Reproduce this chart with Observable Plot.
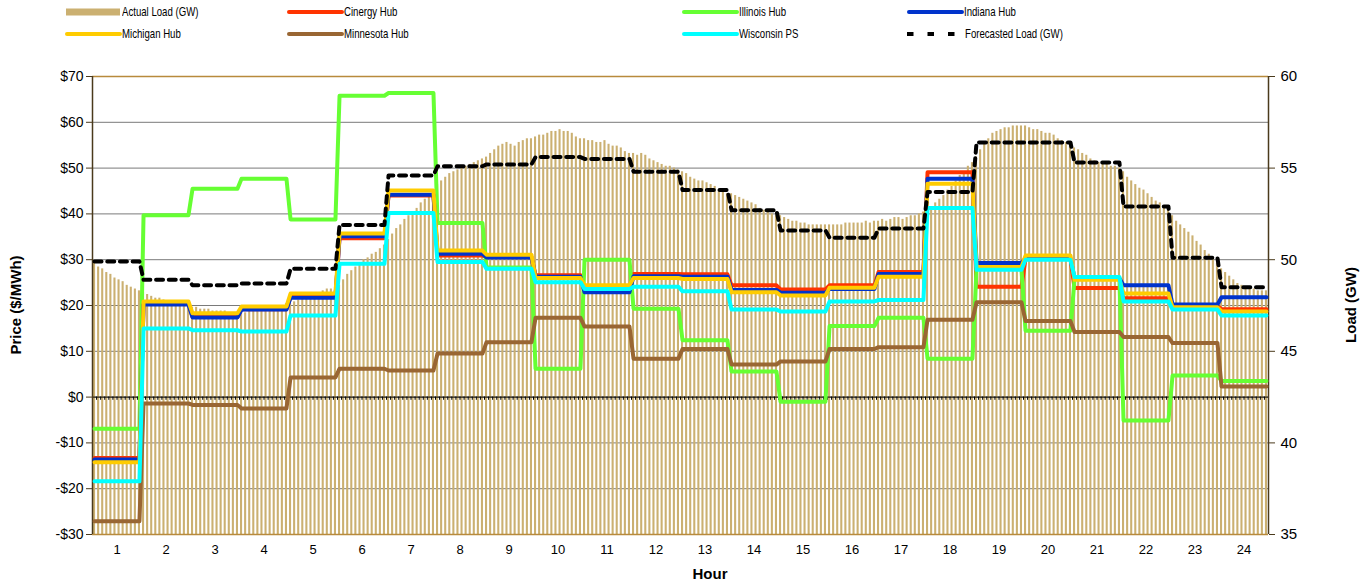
<!DOCTYPE html>
<html><head><meta charset="utf-8">
<script src="https://cdn.jsdelivr.net/npm/d3@7"></script>
<script src="https://cdn.jsdelivr.net/npm/@observablehq/plot@0.6"></script>
<style>
body{margin:0;background:#fff;}
#wrap{position:relative;width:1367px;height:580px;overflow:hidden;font-family:"Liberation Sans",Arial,sans-serif;}
#chart{position:absolute;left:0;top:0}
.lg{position:absolute;font-family:"Liberation Sans",Arial,sans-serif;font-size:13px;line-height:15px;color:#000;white-space:nowrap;transform:scaleX(0.74);transform-origin:0 50%}
.ttl{position:absolute;font-weight:bold;font-size:15px;color:#000;white-space:nowrap}
</style></head><body>
<div id="wrap"><div id="chart"></div><div id="legend"></div>
<div class="ttl" id="ylab" style="left:15px;top:305px;transform:translate(-50%,-50%) rotate(-90deg)">Price ($/MWh)</div>
<div class="ttl" id="y2lab" style="left:1350px;top:305px;transform:translate(-50%,-50%) rotate(-90deg)">Load (GW)</div>
<div class="ttl" id="xlab" style="left:710px;top:573px;transform:translate(-50%,-50%)">Hour</div>
</div>
<script>
// ---- data ----
const hours = d3.range(1, 25);
const priceTicks = [-30, -20, -10, 0, 10, 20, 30, 40, 50, 60, 70];
const loadTicks = [35, 40, 45, 50, 55, 60];

const cinergy   = [-13.3, 20.5, 17.5, 19.2, 21.9, 34.7, 44.0, 30.9, 30.6, 26.6, 23.3, 26.9, 26.8, 24.4, 23.5, 24.4, 27.3, 49.1, 24.1, 30.2, 23.8, 21.6, 19.9, 19.2];
const illinois  = [-6.9, 39.7, 45.5, 47.7, 38.8, 65.8, 66.4, 38.0, 28.3, 6.2, 30.0, 19.3, 12.4, 5.6, -1.0, 15.5, 17.3, 8.4, 28.0, 14.5, 25.9, -5.1, 4.7, 3.5];
const indiana   = [-13.6, 20.2, 17.4, 19.1, 21.7, 35.1, 44.2, 31.3, 30.5, 26.3, 22.9, 26.4, 26.3, 23.4, 22.8, 23.6, 26.9, 47.7, 29.3, 30.3, 25.9, 24.4, 20.2, 21.8];
const michigan  = [-14.2, 20.9, 18.3, 19.8, 22.6, 35.7, 45.1, 32.0, 31.1, 26.0, 24.4, 26.0, 25.8, 22.9, 22.2, 23.9, 26.3, 46.6, 28.4, 30.9, 25.6, 22.6, 19.6, 18.7];
const minnesota = [-27.1, -1.4, -1.7, -2.5, 4.3, 6.2, 5.8, 9.5, 12.0, 17.3, 15.4, 8.4, 10.5, 7.1, 7.8, 10.5, 10.9, 16.9, 20.7, 16.6, 14.2, 13.1, 11.8, 2.3];
const wisconsin = [-18.4, 15.0, 14.6, 14.3, 17.8, 29.1, 40.2, 29.5, 28.0, 25.1, 23.6, 24.1, 23.1, 19.1, 18.7, 20.9, 21.2, 41.3, 27.8, 30.0, 26.2, 20.9, 19.1, 17.8];
const forecastLoad = [49.9, 48.9, 48.6, 48.7, 49.5, 51.9, 54.6, 55.1, 55.2, 55.6, 55.5, 54.8, 53.8, 52.7, 51.6, 51.2, 51.7, 53.7, 56.4, 56.4, 55.3, 52.9, 50.1, 48.5];

// actual load, 5-minute readings (12 per hour), GW
const actualLoad = [
  49.8, 49.6, 49.5, 49.3, 49.2, 49.0, 48.9, 48.8, 48.6, 48.5, 48.4, 48.3,
  48.2, 48.1, 48.0, 47.9, 47.9, 47.8, 47.7, 47.7, 47.6, 47.6, 47.5, 47.5,
  47.4, 47.4, 47.3, 47.3, 47.3, 47.2, 47.2, 47.2, 47.2, 47.1, 47.1, 47.1,
  47.1, 47.1, 47.2, 47.2, 47.2, 47.3, 47.3, 47.4, 47.4, 47.5, 47.5, 47.6,
  47.6, 47.7, 47.8, 47.9, 48.0, 48.0, 48.1, 48.2, 48.3, 48.4, 48.4, 48.5,
  48.6, 48.9, 49.2, 49.4, 49.6, 49.8, 50.0, 50.1, 50.3, 50.4, 50.6, 50.8,
  51.1, 51.4, 51.7, 51.9, 52.2, 52.4, 52.6, 52.8, 53.1, 53.3, 53.6, 53.8,
  54.1, 54.3, 54.5, 54.7, 54.8, 54.9, 55.0, 55.1, 55.2, 55.3, 55.4, 55.5,
  55.6, 55.8, 56.0, 56.2, 56.3, 56.4, 56.3, 56.2, 56.4, 56.5, 56.6, 56.6,
  56.7, 56.8, 56.8, 56.9, 57.0, 57.0, 57.1, 57.0, 57.0, 56.9, 56.7, 56.6,
  56.6, 56.5, 56.5, 56.4, 56.4, 56.5, 56.3, 56.2, 56.2, 56.1, 55.9, 55.8,
  55.8, 55.7, 55.8, 55.7, 55.5, 55.4, 55.3, 55.2, 55.1, 55.1, 55.0, 54.9,
  54.8, 54.7, 54.5, 54.4, 54.3, 54.3, 54.2, 54.1, 54.0, 53.8, 53.7, 53.6,
  53.6, 53.5, 53.4, 53.3, 53.2, 53.1, 53.0, 52.8, 52.7, 52.6, 52.5, 52.4,
  52.4, 52.3, 52.2, 52.1, 52.1, 52.0, 52.0, 51.9, 51.9, 51.9, 51.9, 51.9,
  51.9, 51.9, 51.9, 51.9, 52.0, 52.0, 52.0, 52.0, 52.0, 52.1, 52.0, 52.1,
  52.1, 52.2, 52.1, 52.2, 52.3, 52.3, 52.2, 52.3, 52.4, 52.4, 52.5, 52.6,
  52.7, 52.9, 53.1, 53.3, 53.5, 53.8, 54.0, 54.3, 54.6, 54.8, 55.1, 55.3,
  55.6, 56.0, 56.3, 56.6, 56.9, 57.0, 57.1, 57.2, 57.2, 57.3, 57.3, 57.3,
  57.3, 57.2, 57.1, 57.1, 57.0, 56.9, 56.9, 56.8, 56.6, 56.5, 56.4, 56.2,
  56.1, 56.0, 55.8, 55.7, 55.5, 55.4, 55.3, 55.3, 55.2, 55.1, 55.1, 55.0,
  54.8, 54.5, 54.3, 54.1, 53.9, 53.8, 53.6, 53.4, 53.2, 53.1, 52.9, 52.8,
  52.4, 52.1, 51.9, 51.7, 51.5, 51.3, 51.0, 50.8, 50.5, 50.3, 50.0, 49.8,
  49.5, 49.3, 49.1, 48.9, 48.7, 48.6, 48.5, 48.4, 48.4, 48.3, 48.3, 48.3
];

const seriesNames  = ["Cinergy Hub", "Illinois Hub", "Indiana Hub", "Michigan Hub", "Minnesota Hub", "Wisconsin PS"];
const seriesValues = [cinergy, illinois, indiana, michigan, minnesota, wisconsin];
const seriesColors = ["#ff3300", "#66ff33", "#0033cc", "#ffcc00", "#996633", "#00ffff"];
const loadColor = "#cbb071";

// ---- derived ----
const PER = 12; // readings per hour
const toPrice = gw => -30 + (gw - 35) * 4; // map load (35..60 GW) onto price scale (-30..70)
const expand = arr => arr.flatMap((v, i) => d3.range(PER).map(j => ({t: i + (j + 0.5) / PER, v})));
const loadRows = actualLoad.map((gw, k) => ({x1: k / PER, x2: (k + 1) / PER, y: toPrice(gw)}));
const forecastRows = expand(forecastLoad).map(d => ({t: d.t, v: toPrice(d.v)}));
const slotEdges = d3.range(0, 24 * PER + 1).map(k => k / PER);

const fmtPrice = d => d < 0 ? `-$${-d}` : `$${d}`;

const lineMarks = seriesValues.map((vals, i) =>
  Plot.line(expand(vals), {x: "t", y: "v", stroke: seriesColors[i], strokeWidth: 4, strokeLinejoin: "round", strokeLinecap: "round"}));

const chart = Plot.plot({
  width: 1367, height: 580,
  marginTop: 76, marginBottom: 46, marginLeft: 92, marginRight: 99,
  x: {domain: [0, 24], axis: null},
  y: {domain: [-30, 70], axis: null},
  style: {fontFamily: '"Liberation Sans", Arial, sans-serif', fontSize: "14px", background: "white", color: "black"},
  marks: [
    Plot.ruleY(priceTicks.filter(d => d > -30 && d < 70), {stroke: "#7a7a7a", strokeWidth: 1}),
    Plot.rectY(loadRows, {x1: "x1", x2: "x2", y1: -30, y2: "y", fill: loadColor, insetLeft: 1, insetRight: 1}),
    Plot.ruleY([0], {stroke: "#000", strokeWidth: 1}),
    Plot.ruleX(slotEdges, {y1: 0, y2: -0.7, stroke: "#000", strokeWidth: 1}),
    Plot.ruleY([70, -30], {stroke: "#b88a3c", strokeWidth: 1.5}),
    Plot.ruleX([0, 24], {y1: -30, y2: 70, stroke: "#4a3a1c", strokeWidth: 1.5}),
    ...lineMarks,
    Plot.line(forecastRows, {x: "t", y: "v", stroke: "#000", strokeWidth: 4, strokeDasharray: "7,5.7"}),
    Plot.axisY(priceTicks, {anchor: "left", tickFormat: fmtPrice, tickSize: 6, tickPadding: 3, label: null, stroke: "#4a3a1c"}),
    Plot.axisY(loadTicks.map(toPrice), {anchor: "right", tickFormat: d => String(35 + (d + 30) / 4), tickSize: 6, tickPadding: 6, label: null, stroke: "#4a3a1c", fontSize: 15}),
    Plot.axisX(hours.map(h => h - 0.5), {tickFormat: d => String(d + 0.5), tickSize: 0, tickPadding: 10, label: null, fontSize: 13})
  ]
});
document.getElementById("chart").appendChild(chart);

// ---- legend ----
const legendItems = [
  {name: "Actual Load (GW)", type: "bar", color: loadColor},
  {name: seriesNames[0], type: "line", color: seriesColors[0]},
  {name: seriesNames[1], type: "line", color: seriesColors[1]},
  {name: seriesNames[2], type: "line", color: seriesColors[2]},
  {name: seriesNames[3], type: "line", color: seriesColors[3]},
  {name: seriesNames[4], type: "line", color: seriesColors[4]},
  {name: seriesNames[5], type: "line", color: seriesColors[5]},
  {name: "Forecasted Load (GW)", type: "dash", color: "#000"}
];
const colX = [65, 287, 682, 907];
const rowY = [12, 34];
const lg = d3.select("#legend");
legendItems.forEach((it, i) => {
  const cx = colX[i % 4], cy = rowY[Math.floor(i / 4)];
  const svg = lg.append("svg").attr("width", 57).attr("height", 12)
    .style("position", "absolute").style("left", cx + "px").style("top", (cy - 6) + "px");
  if (it.type === "bar") svg.append("rect").attr("x", 1).attr("y", 2.5).attr("width", 54).attr("height", 7).attr("fill", it.color);
  else if (it.type === "line") svg.append("line").attr("x1", 2).attr("x2", 55).attr("y1", 6).attr("y2", 6)
    .attr("stroke", it.color).attr("stroke-width", 4).attr("stroke-linecap", "round");
  else svg.append("line").attr("x1", 0).attr("x2", 50).attr("y1", 6).attr("y2", 6)
    .attr("stroke", it.color).attr("stroke-width", 4).attr("stroke-dasharray", "6.5,14");
  lg.append("div").attr("class", "lg").text(it.name)
    .style("left", (cx + (it.type === "dash" ? 58 : 57)) + "px").style("top", (cy - 8) + "px");
});
</script>
</body></html>
